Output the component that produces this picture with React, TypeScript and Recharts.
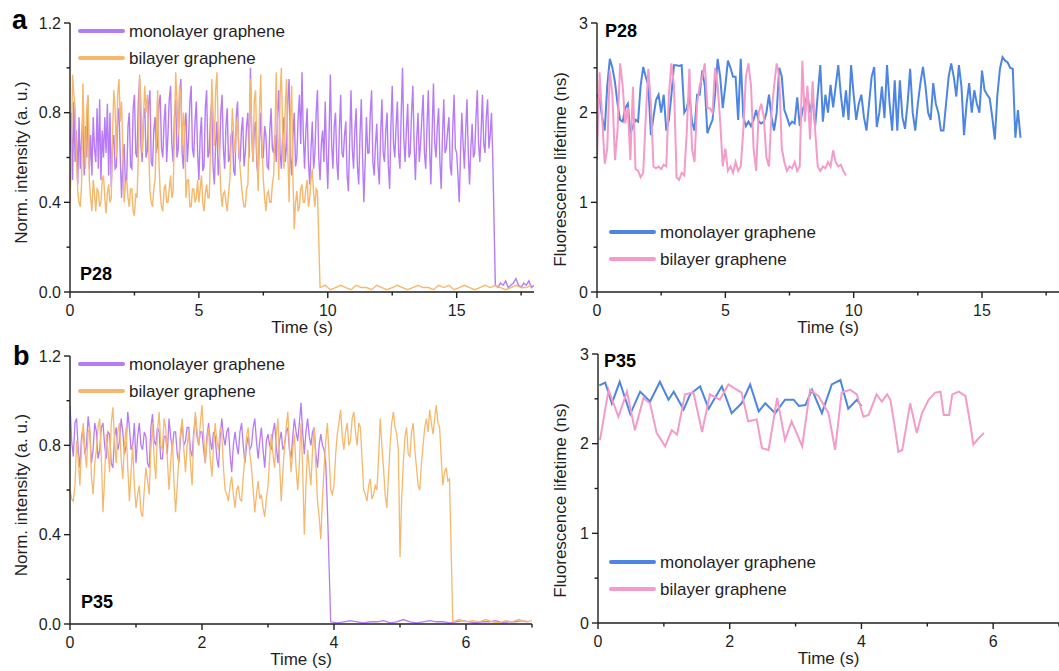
import React from 'react';
import { LineChart, Line, XAxis, YAxis, Legend } from 'recharts';

const FONT = '"Liberation Sans", Arial, Helvetica, sans-serif';
const INK = '#1f1f1f';
const PURPLE = '#b77bf6';
const ORANGE = '#f6b86d';
const BLUE = '#4d86e2';
const PINK = '#f59bca';
const MONO = 'monolayer graphene';
const BI = 'bilayer graphene';

// ---- P28, normalised intensity (step 0.05 s, one row per second) ----
const intMonoA = [
  0.62, 0.8, 0.5, 0.85, 0.58, 0.72, 0.48, 0.78, 0.55, 0.68, 0.8, 0.52, 0.74, 0.6, 0.87, 0.55, 0.7, 0.52, 0.78, 0.64,
  0.58, 0.82, 0.55, 0.86, 0.5, 0.72, 0.6, 0.78, 0.62, 0.84, 0.52, 0.8, 0.47, 0.66, 0.7, 0.55, 0.56, 0.76, 0.82, 0.6,
  0.42, 0.58, 0.66, 0.48, 0.5, 0.74, 0.8, 0.56, 0.55, 0.82, 0.88, 0.62, 0.6, 0.85, 0.95, 0.66, 0.58, 0.78, 0.82, 0.6,
  0.63, 0.84, 0.9, 0.58, 0.56, 0.72, 0.78, 0.62, 0.66, 0.84, 0.88, 0.64, 0.6, 0.76, 0.84, 0.58, 0.7, 0.86, 0.92, 0.66,
  0.58, 0.78, 0.86, 0.6, 0.64, 0.88, 0.95, 0.62, 0.55, 0.74, 0.8, 0.58, 0.68, 0.85, 0.92, 0.64, 0.6, 0.76, 0.85, 0.62,
  0.5, 0.7, 0.78, 0.54, 0.56, 0.82, 0.9, 0.6, 0.62, 0.78, 0.85, 0.56, 0.48, 0.66, 0.76, 0.52, 0.6, 0.8, 0.88, 0.64,
  0.55, 0.74, 0.82, 0.58, 0.6, 0.7, 0.72, 0.54, 0.52, 0.78, 0.85, 0.6, 0.58, 0.72, 0.78, 0.56, 0.62, 0.74, 0.8, 0.6,
  1.0, 0.7, 0.58, 0.72, 0.76, 0.56, 0.52, 0.68, 0.8, 0.6, 0.6, 0.74, 0.7, 0.56, 0.55, 0.72, 0.82, 0.64, 0.62, 0.7,
  0.58, 0.8, 0.9, 0.62, 0.55, 0.7, 0.78, 0.58, 0.65, 0.86, 0.95, 0.6, 0.52, 0.7, 0.8, 0.56, 0.6, 0.78, 0.88, 0.66,
  0.98, 0.7, 0.55, 0.72, 0.82, 0.58, 0.48, 0.64, 0.76, 0.55, 0.62, 0.8, 0.9, 0.6, 0.5, 0.66, 0.72, 0.58, 0.85, 0.62,
  0.46, 0.7, 0.97, 0.66, 0.55, 0.74, 0.8, 0.58, 0.5, 0.72, 0.88, 0.62, 0.6, 0.7, 0.76, 0.52, 0.45, 0.68, 0.9, 0.64,
  0.55, 0.72, 0.82, 0.56, 0.48, 0.7, 0.86, 0.6, 0.4, 0.58, 0.78, 0.62, 0.62, 0.8, 0.9, 0.58, 0.52, 0.66, 0.75, 0.56,
  0.48, 0.7, 0.86, 0.62, 0.58, 0.72, 0.8, 0.56, 0.46, 0.74, 0.92, 0.66, 0.6, 0.74, 0.85, 0.62, 0.55, 0.8, 1.0, 0.68,
  0.58, 0.72, 0.84, 0.6, 0.62, 0.8, 0.92, 0.66, 0.5, 0.68, 0.8, 0.58, 0.66, 0.78, 0.88, 0.62, 0.55, 0.74, 0.9, 0.64,
  0.48, 0.72, 0.93, 0.66, 0.6, 0.74, 0.82, 0.58, 0.46, 0.7, 0.86, 0.62, 0.64, 0.72, 0.78, 0.56, 0.52, 0.74, 0.88, 0.64,
  0.62, 0.52, 0.4, 0.62, 0.8, 0.66, 0.55, 0.72, 0.86, 0.62, 0.48, 0.64, 0.75, 0.6, 0.62, 0.78, 0.9, 0.66, 0.58, 0.72,
  0.88, 0.66, 0.62, 0.78, 0.86, 0.64, 0.7, 0.8, 0.6,
];
const intMonoATail = [0.03, 0.02, 0.04, 0.03, 0.05, 0.02, 0.03, 0.04, 0.06, 0.03, 0.02, 0.04, 0.03, 0.05, 0.02, 0.03];
const intBiA = [
  0.4, 0.58, 0.97, 0.88, 0.82, 0.6, 0.45, 0.4, 0.38, 0.48, 0.93, 0.7, 0.55, 0.82, 0.88, 0.5, 0.42, 0.36, 0.5, 0.44,
  0.36, 0.46, 0.45, 0.38, 0.4, 0.5, 0.52, 0.42, 0.35, 0.44, 0.48, 0.4, 0.42, 0.7, 0.9, 0.82, 0.6, 0.88, 0.95, 0.76,
  0.85, 0.62, 0.4, 0.48, 0.5, 0.42, 0.38, 0.46, 0.46, 0.36, 0.34, 0.44, 0.42, 0.6, 0.97, 0.86, 0.62, 0.78, 0.92, 0.8,
  0.88, 0.66, 0.45, 0.4, 0.38, 0.46, 0.5, 0.7, 0.9, 0.58, 0.44, 0.38, 0.36, 0.46, 0.48, 0.4, 0.4, 0.46, 0.52, 0.42,
  0.45, 0.7, 0.98, 0.86, 0.7, 0.92, 0.88, 0.65, 0.8, 0.72, 0.42, 0.5, 0.5, 0.38, 0.38, 0.46, 0.46, 0.4, 0.42, 0.5,
  0.4, 0.46, 0.52, 0.4, 0.36, 0.44, 0.48, 0.42, 0.42, 0.62, 0.95, 0.8, 0.65, 0.9, 0.98, 0.72, 0.6, 0.45, 0.38, 0.44,
  0.45, 0.4, 0.36, 0.44, 0.5, 0.66, 0.82, 0.7, 0.62, 0.74, 0.78, 0.64, 0.55, 0.48, 0.42, 0.38, 0.38, 0.46, 0.48, 0.7,
  0.95, 0.72, 0.58, 0.86, 0.9, 0.62, 0.45, 0.8, 0.97, 0.66, 0.5, 0.42, 0.36, 0.44, 0.45, 0.4, 0.4, 0.48, 0.52, 0.7,
  0.98, 0.72, 0.5, 0.88, 1.0, 0.7, 0.55, 0.82, 0.95, 0.62, 0.4, 0.78, 0.92, 0.5, 0.28, 0.4, 0.45, 0.36, 0.38, 0.46,
  0.48, 0.4, 0.4, 0.46, 0.5, 0.38, 0.42, 0.5, 0.55, 0.44, 0.38, 0.46, 0.45,
];
const intBiATail = [
  0.02, 0.03, 0.01, 0.02, 0.03, 0.02, 0.01, 0.03, 0.02, 0.02, 0.01, 0.03, 0.02, 0.01,
  0.02, 0.03, 0.02, 0.01, 0.02, 0.03, 0.02, 0.02, 0.01, 0.03, 0.02, 0.03, 0.01, 0.02,
  0.03, 0.02, 0.01, 0.02, 0.03, 0.02, 0.03, 0.02, 0.01, 0.02, 0.03, 0.02, 0.02, 0.03,
];

// ---- P28, fluorescence lifetime (step 0.1 s) ----
const lifeMonoA = [
  2.2, 2.15, 1.95, 1.8, 2.3, 2.6, 2.5, 2.34, 2.1, 1.92,
  1.9, 2.05, 2.1, 1.77, 1.85, 1.92, 1.9, 2.3, 2.51, 2.4,
  2.3, 1.75, 1.95, 2.14, 2.2, 2.0, 2.2, 1.8, 1.92, 2.2,
  2.53, 2.53, 2.52, 2.53, 2.0, 2.05, 2.2, 1.9, 1.8, 2.2,
  2.2, 2.47, 2.3, 1.77, 1.85, 1.92, 2.2, 2.6, 2.4, 2.05,
  2.3, 2.58, 2.5, 2.4, 2.4, 1.92, 2.6, 1.95, 1.85, 1.9,
  1.85, 1.92, 2.03, 1.9, 1.88, 1.9, 2.0, 2.2, 1.95, 1.8,
  2.0, 2.5, 2.4, 2.03, 1.95, 1.86, 1.9, 1.88, 2.17, 1.85,
  2.02, 2.1, 2.2, 2.0, 2.15, 1.85, 2.2, 2.53, 1.9, 2.2,
  2.0, 2.31, 2.06, 2.3, 2.53, 2.2, 1.95, 2.25, 1.92, 2.53,
  2.2, 1.92, 2.1, 2.2, 1.95, 1.8, 2.1, 2.4, 2.51, 1.84,
  2.0, 2.29, 1.94, 2.53, 2.1, 1.8, 2.36, 1.8, 2.36, 1.95,
  1.82, 2.1, 2.49, 2.0, 1.8, 2.1, 2.33, 2.51, 2.29, 2.0,
  1.92, 2.33, 2.1, 2.0, 1.8, 1.8, 2.1, 2.4, 2.55, 2.4,
  2.18, 2.53, 2.29, 1.75, 2.1, 2.33, 2.0, 2.25, 2.1, 2.0,
  2.47, 2.25, 2.2, 2.16, 1.95, 1.7, 2.2, 2.49, 2.62, 2.58,
  2.56, 2.5, 2.49, 1.72, 2.03, 1.72,
];
const lifeBiA = [
  1.47, 2.45, 1.95, 1.43, 1.6, 2.47, 2.2, 1.47, 1.8, 2.55,
  2.3, 1.88, 2.06, 1.47, 2.29, 1.37, 1.35, 1.28, 1.33, 1.95,
  2.49, 2.1, 1.4, 1.38, 1.4, 1.37, 1.42, 1.4, 2.2, 2.55,
  2.3, 1.28, 1.25, 1.33, 1.3, 1.8, 2.49, 1.6, 1.45, 2.1,
  2.3, 2.4, 2.55, 2.05, 2.05, 2.0, 2.5, 2.3, 1.9, 1.4,
  1.6, 1.35, 1.4, 1.33, 1.45, 1.35, 1.4, 1.8, 2.4, 2.55,
  2.3, 1.6, 1.35, 2.0, 2.1, 1.95, 1.5, 1.4, 2.0, 2.3,
  2.55, 2.4, 1.6, 1.45, 1.35, 1.4, 1.38, 1.45, 1.35, 1.4,
  2.58, 1.9, 2.3, 1.7, 2.35, 1.8, 1.4, 1.35, 1.4, 1.38,
  1.45, 1.4, 1.58, 1.45, 1.4, 1.42, 1.35, 1.3,
];

// ---- P35, normalised intensity (step 0.025 s, one row per half second) ----
const intMonoB = [
  0.98, 0.82, 0.75, 0.9, 0.92, 0.78, 0.7, 0.84, 0.88, 0.76, 0.8, 0.93, 0.86, 0.72, 0.78, 0.9, 0.86, 0.74, 0.78, 0.88,
  0.9, 0.8, 0.74, 0.86, 0.85, 0.72, 0.7, 0.84, 0.88, 0.78, 0.82, 0.92, 0.86, 0.76, 0.8, 0.95, 0.88, 0.78, 0.8, 0.9,
  0.72, 0.84, 0.9, 0.8, 0.78, 0.86, 0.84, 0.72, 0.7, 0.88, 0.94, 0.82, 0.8, 0.88, 0.86, 0.74, 0.74, 0.84, 0.84, 0.76,
  0.92, 0.84, 0.78, 0.86, 0.86, 0.76, 0.72, 0.84, 0.9, 0.8, 0.82, 0.88, 0.88, 0.78, 0.75, 0.86, 0.93, 0.84, 0.8, 0.86,
  0.86, 0.78, 0.72, 0.84, 0.9, 0.82, 0.78, 0.86, 0.84, 0.74, 0.7, 0.84, 0.92, 0.84, 0.8, 0.86, 0.88, 0.76, 0.68, 0.8,
  0.86, 0.8, 0.76, 0.86, 0.9, 0.8, 0.72, 0.8, 0.84, 0.78, 0.8, 0.88, 0.92, 0.82, 0.74, 0.82, 0.88, 0.78, 0.7, 0.82,
  0.85, 0.8, 0.78, 0.86, 0.9, 0.8, 0.72, 0.82, 0.86, 0.78, 0.8, 0.86, 0.88, 0.78, 0.74, 0.84, 0.92, 0.86, 0.82, 0.9,
  0.99, 0.86, 0.76, 0.86, 0.92, 0.84, 0.8, 0.86, 0.88, 0.76, 0.7, 0.8, 0.85, 0.8, 0.78, 0.72, 0.52,
];
const intMonoBTail = [
  0.01, 0.005, 0.01, 0.015, 0.01, 0.005, 0.01, 0.01, 0.015, 0.005, 0.01, 0.02, 0.01, 0.005, 0.01, 0.015,
  0.01, 0.01, 0.005, 0.01, 0.015, 0.01, 0.005, 0.01, 0.01, 0.015, 0.005, 0.01, 0.01, 0.015, 0.01,
];
const intBiB = [
  0.6, 0.56, 0.55, 0.62, 0.82, 0.74, 0.62, 0.8, 0.9, 0.78, 0.7, 0.86, 0.88, 0.66, 0.58, 0.72, 0.78, 0.88, 0.92, 0.74,
  0.5, 0.66, 0.85, 0.78, 0.68, 0.9, 0.97, 0.82, 0.72, 0.86, 0.9, 0.74, 0.65, 0.8, 0.88, 0.7, 0.55, 0.68, 0.8, 0.62,
  0.52, 0.58, 0.62, 0.5, 0.48, 0.6, 0.7, 0.64, 0.58, 0.78, 0.9, 0.74, 0.65, 0.86, 0.95, 0.8, 0.78, 0.92, 0.88, 0.74,
  0.6, 0.72, 0.82, 0.64, 0.5, 0.62, 0.75, 0.86, 0.92, 0.78, 0.68, 0.8, 0.86, 0.72, 0.62, 0.84, 0.95, 0.86, 0.8, 0.9,
  0.98, 0.84, 0.72, 0.82, 0.88, 0.74, 0.66, 0.8, 0.9, 0.82, 0.78, 0.88, 0.85, 0.7, 0.6, 0.58, 0.55, 0.62, 0.66, 0.58,
  0.52, 0.6, 0.62, 0.56, 0.55, 0.66, 0.75, 0.84, 0.88, 0.76, 0.7, 0.6, 0.5, 0.58, 0.64, 0.56, 0.58, 0.52, 0.48, 0.56,
  0.62, 0.74, 0.85, 0.76, 0.7, 0.84, 0.92, 0.72, 0.55, 0.68, 0.8, 0.88, 0.95, 0.8, 0.68, 0.78, 0.85, 0.7, 0.6, 0.72,
  0.9, 0.7, 0.4, 0.62, 0.78, 0.7, 0.62, 0.78, 0.88, 0.72, 0.55, 0.48, 0.38, 0.56, 0.7, 0.82, 0.9, 0.76, 0.6, 0.58,
  0.62, 0.76, 0.85, 0.9, 0.96, 0.84, 0.78, 0.86, 0.9, 0.8, 0.82, 0.92, 0.95, 0.86, 0.8, 0.9, 0.88, 0.74, 0.6, 0.58,
  0.55, 0.62, 0.65, 0.56, 0.58, 0.62, 0.6, 0.74, 0.92, 0.8, 0.7, 0.58, 0.52, 0.66, 0.8, 0.9, 0.95, 0.88, 0.85, 0.78,
  0.3, 0.56, 0.72, 0.84, 0.88, 0.76, 0.75, 0.86, 0.9, 0.78, 0.7, 0.62, 0.6, 0.72, 0.8, 0.88, 0.92, 0.86, 0.96, 0.9,
  0.85, 0.92, 0.98, 0.9, 0.88, 0.74, 0.62, 0.68, 0.7, 0.64, 0.65,
];
const intBiBTail = [0.01, 0.02, 0.01, 0.015, 0.01, 0.02, 0.01, 0.005, 0.015, 0.01, 0.02, 0.01, 0.015];

// ---- P35, fluorescence lifetime (time, value) ----
const lifeMonoBT = [
  0.02, 0.11, 0.21, 0.33, 0.49, 0.64, 0.79, 0.94, 1.07, 1.15, 1.3, 1.4, 1.55, 1.68, 1.88, 2.03,
  2.18, 2.31, 2.44, 2.54, 2.69, 2.84, 2.97, 3.05, 3.15, 3.25, 3.4, 3.55, 3.68, 3.8, 3.93, 4.0,
];
const lifeMonoBV = [
  2.65, 2.68, 2.45, 2.69, 2.33, 2.58, 2.47, 2.69, 2.49, 2.58, 2.38, 2.55, 2.64, 2.39, 2.64, 2.34,
  2.45, 2.66, 2.36, 2.45, 2.34, 2.49, 2.49, 2.42, 2.43, 2.6, 2.34, 2.66, 2.71, 2.39, 2.49, 2.42,
];
const lifeBiBT = [
  0.03, 0.16, 0.31, 0.44, 0.56, 0.69, 0.79, 0.89, 1.02, 1.12, 1.2, 1.32, 1.45, 1.58, 1.7, 1.85,
  1.98, 2.11, 2.18, 2.28, 2.41, 2.49, 2.59, 2.72, 2.84, 2.94, 3.1, 3.22, 3.35, 3.5, 3.6, 3.7,
  3.83, 3.93, 4.03, 4.11, 4.23, 4.31, 4.39, 4.44, 4.51, 4.56, 4.62, 4.74, 4.84, 4.92, 5.02, 5.12,
  5.2, 5.25, 5.33, 5.38, 5.48, 5.58, 5.65, 5.7, 5.78, 5.86,
];
const lifeBiBV = [
  2.04, 2.6, 2.3, 2.58, 2.15, 2.51, 2.45, 2.12, 1.97, 2.15, 2.1, 2.55, 2.57, 2.13, 2.55, 2.49,
  2.66, 2.6, 2.57, 2.25, 2.27, 1.95, 1.93, 2.51, 2.04, 2.25, 1.97, 2.6, 2.53, 2.34, 1.93, 2.57,
  2.6, 2.55, 2.3, 2.32, 2.55, 2.47, 2.55, 2.49, 2.17, 1.91, 1.93, 2.45, 2.12, 2.34, 2.49, 2.57,
  2.58, 2.32, 2.32, 2.55, 2.58, 2.53, 2.23, 1.99, 2.06, 2.12,
];

// ---- axis ticks ----
const intTicks = [0, 0.2, 0.4, 0.6, 0.8, 1.0, 1.2];
const lifeTicks = [0, 0.5, 1, 1.5, 2, 2.5, 3];
const timeTicksA = [0, 2.5, 5, 7.5, 10, 12.5, 15, 17.5];
const timeTicksB = [0, 1, 2, 3, 4, 5, 6, 7];

type Pt = { t: number; v: number };
const trace = (values: number[], step: number, start = 0): Pt[] =>
  values.map((v, i) => ({ t: Math.round((start + i * step) * 1000) / 1000, v }));
const pairs = (ts: number[], vs: number[]): Pt[] => ts.map((t, i) => ({ t, v: vs[i] }));

const isMultiple = (v: number, m: number) => Math.abs(v / m - Math.round(v / m)) < 1e-6;

function xTick(majorStep: number) {
  return (p: any) => {
    const v = p.payload.value;
    const major = isMultiple(v, majorStep);
    return (
      <g>
        <line x1={p.x} y1={p.y} x2={p.x} y2={p.y + (major ? 6 : 3.5)} stroke={INK} strokeWidth={1.4} />
        {major && (
          <text x={p.x} y={p.y + 24} textAnchor="middle" fontSize={16} fontFamily={FONT} fill={INK}>
            {v}
          </text>
        )}
      </g>
    );
  };
}

function yTick(majorStep: number, digits: number) {
  return (p: any) => {
    const v = p.payload.value;
    const major = isMultiple(v, majorStep);
    return (
      <g>
        <line x1={p.x} y1={p.y} x2={p.x - (major ? 6 : 3.5)} y2={p.y} stroke={INK} strokeWidth={1.4} />
        {major && (
          <text x={p.x - 9} y={p.y + 5.5} textAnchor="end" fontSize={16} fontFamily={FONT} fill={INK}>
            {v.toFixed(digits)}
          </text>
        )}
      </g>
    );
  };
}

function xTitle(text: string) {
  return (props: any) => {
    const vb = props.viewBox ?? { x: 0, y: 0, width: 0 };
    return (
      <text x={vb.x + vb.width / 2} y={vb.y + 41} textAnchor="middle" fontSize={17} fontFamily={FONT} fill={INK}>
        {text}
      </text>
    );
  };
}

function yTitle(text: string, cx: number, dy: number) {
  return (props: any) => {
    const vb = props.viewBox ?? { y: 0, height: 0 };
    const cy = vb.y + vb.height / 2 + dy;
    return (
      <text
        x={cx}
        y={cy}
        transform={`rotate(-90 ${cx} ${cy})`}
        textAnchor="middle"
        dominantBaseline="central"
        fontSize={17}
        fontFamily={FONT}
        fill={INK}
      >
        {text}
      </text>
    );
  };
}

const legendOrder = [MONO, BI];
function LegendBox(props: any) {
  const items = [...(props.payload ?? [])].sort(
    (a: any, b: any) => legendOrder.indexOf(a.value) - legendOrder.indexOf(b.value),
  );
  return (
    <div style={{ fontFamily: FONT }}>
      {items.map((it: any) => (
        <div key={it.value} style={{ display: 'flex', alignItems: 'center', height: 27 }}>
          <div style={{ width: 47, height: 4, borderRadius: 2, background: it.color, marginRight: 4 }} />
          <span style={{ fontSize: 17, color: INK, lineHeight: '27px', whiteSpace: 'nowrap' }}>{it.value}</span>
        </div>
      ))}
    </div>
  );
}

type Series = { name: string; color: string; data: Pt[]; width: number };
type PanelProps = {
  left: number;
  top: number;
  width: number;
  height: number;
  margin: { top: number; right: number; bottom: number; left: number };
  yWidth: number;
  xHeight: number;
  xMax: number;
  xTicks: number[];
  xMajor: number;
  yMax: number;
  yTicks: number[];
  yMajor: number;
  yDigits: number;
  yLabel: string;
  yLabelX: number;
  yLabelDy: number;
  legendPos: { left: number; top: number };
  series: Series[];
};

function Panel(p: PanelProps) {
  return (
    <div style={{ position: 'absolute', left: p.left, top: p.top }}>
      <LineChart width={p.width} height={p.height} margin={p.margin}>
        <XAxis
          type="number"
          dataKey="t"
          domain={[0, p.xMax]}
          ticks={p.xTicks}
          interval={0}
          allowDataOverflow
          height={p.xHeight}
          stroke={INK}
          strokeWidth={1.4}
          tickLine={false}
          tickSize={0}
          tickMargin={0}
          tick={xTick(p.xMajor)}
          label={{ content: xTitle('Time (s)') }}
        />
        <YAxis
          type="number"
          domain={[0, p.yMax]}
          ticks={p.yTicks}
          interval={0}
          allowDataOverflow
          width={p.yWidth}
          stroke={INK}
          strokeWidth={1.4}
          tickLine={false}
          tickSize={0}
          tickMargin={0}
          tick={yTick(p.yMajor, p.yDigits)}
          label={{ content: yTitle(p.yLabel, p.yLabelX, p.yLabelDy) }}
        />
        <Legend
          layout="vertical"
          align="center"
          verticalAlign="middle"
          content={<LegendBox />}
          wrapperStyle={{ left: p.legendPos.left, top: p.legendPos.top, width: 'auto' }}
        />
        {p.series.map((s) => (
          <Line
            key={s.name}
            name={s.name}
            data={s.data}
            dataKey="v"
            type="linear"
            stroke={s.color}
            strokeWidth={s.width}
            dot={false}
            activeDot={false}
            isAnimationActive={false}
          />
        ))}
      </LineChart>
    </div>
  );
}

export default function App() {
  const intYLabel = 'Norm. intensity (a. u.)';
  const lifeYLabel = 'Fluorescence lifetime (ns)';
  return (
    <div style={{ position: 'absolute', left: 0, top: 0, width: 1059, height: 671, background: '#fff', overflow: 'hidden' }}>
      <Panel
        left={0}
        top={0}
        width={545}
        height={345}
        margin={{ top: 23, right: 11, bottom: 13, left: 0 }}
        yWidth={70}
        xHeight={40}
        xMax={18}
        xTicks={timeTicksA}
        xMajor={5}
        yMax={1.2}
        yTicks={intTicks}
        yMajor={0.4}
        yDigits={1}
        yLabel={intYLabel}
        yLabelX={21.5}
        yLabelDy={5}
        legendPos={{ left: 78, top: 17.5 }}
        series={[
          { name: MONO, color: PURPLE, width: 1.4, data: [...trace(intMonoA, 0.05), ...trace(intMonoATail, 0.1, 16.5)] },
          { name: BI, color: ORANGE, width: 1.4, data: [...trace(intBiA, 0.05), ...trace(intBiATail, 0.2, 9.7)] },
        ]}
      />
      <Panel
        left={530}
        top={0}
        width={529}
        height={345}
        margin={{ top: 23, right: 0, bottom: 13, left: 0 }}
        yWidth={67}
        xHeight={40}
        xMax={18}
        xTicks={timeTicksA}
        xMajor={5}
        yMax={3}
        yTicks={lifeTicks}
        yMajor={1}
        yDigits={0}
        yLabel={lifeYLabel}
        yLabelX={30}
        yLabelDy={12}
        legendPos={{ left: 79, top: 218.5 }}
        series={[
          { name: MONO, color: BLUE, width: 2, data: trace(lifeMonoA, 0.1) },
          { name: BI, color: PINK, width: 2, data: trace(lifeBiA, 0.1) },
        ]}
      />
      <Panel
        left={0}
        top={335}
        width={545}
        height={336}
        margin={{ top: 21, right: 13, bottom: 3, left: 0 }}
        yWidth={70}
        xHeight={44}
        xMax={7}
        xTicks={timeTicksB}
        xMajor={2}
        yMax={1.2}
        yTicks={intTicks}
        yMajor={0.4}
        yDigits={1}
        yLabel={intYLabel}
        yLabelX={21.5}
        yLabelDy={5}
        legendPos={{ left: 78, top: 15.5 }}
        series={[
          { name: MONO, color: PURPLE, width: 1.3, data: [...trace(intMonoB, 0.025), ...trace(intMonoBTail, 0.1, 3.95)] },
          { name: BI, color: ORANGE, width: 1.3, data: [...trace(intBiB, 0.025), ...trace(intBiBTail, 0.1, 5.8)] },
        ]}
      />
      <Panel
        left={530}
        top={335}
        width={529}
        height={336}
        margin={{ top: 19, right: 0, bottom: 3, left: 0 }}
        yWidth={68}
        xHeight={45}
        xMax={7}
        xTicks={timeTicksB}
        xMajor={2}
        yMax={3}
        yTicks={lifeTicks}
        yMajor={1}
        yDigits={0}
        yLabel={lifeYLabel}
        yLabelX={30}
        yLabelDy={12}
        legendPos={{ left: 79, top: 213.5 }}
        series={[
          { name: MONO, color: BLUE, width: 2, data: pairs(lifeMonoBT, lifeMonoBV) },
          { name: BI, color: PINK, width: 2, data: pairs(lifeBiBT, lifeBiBV) },
        ]}
      />
      <svg
        width={1059}
        height={671}
        style={{ position: 'absolute', left: 0, top: 0, pointerEvents: 'none' }}
        fontFamily={FONT}
        fontWeight="bold"
        fill="#000"
      >
        <text x={12} y={29} fontSize={27}>a</text>
        <text x={13} y={365} fontSize={27}>b</text>
        <text x={80} y={280} fontSize={18}>P28</text>
        <text x={605} y={37} fontSize={18}>P28</text>
        <text x={81} y={608} fontSize={18}>P35</text>
        <text x={604} y={367} fontSize={18}>P35</text>
      </svg>
    </div>
  );
}
